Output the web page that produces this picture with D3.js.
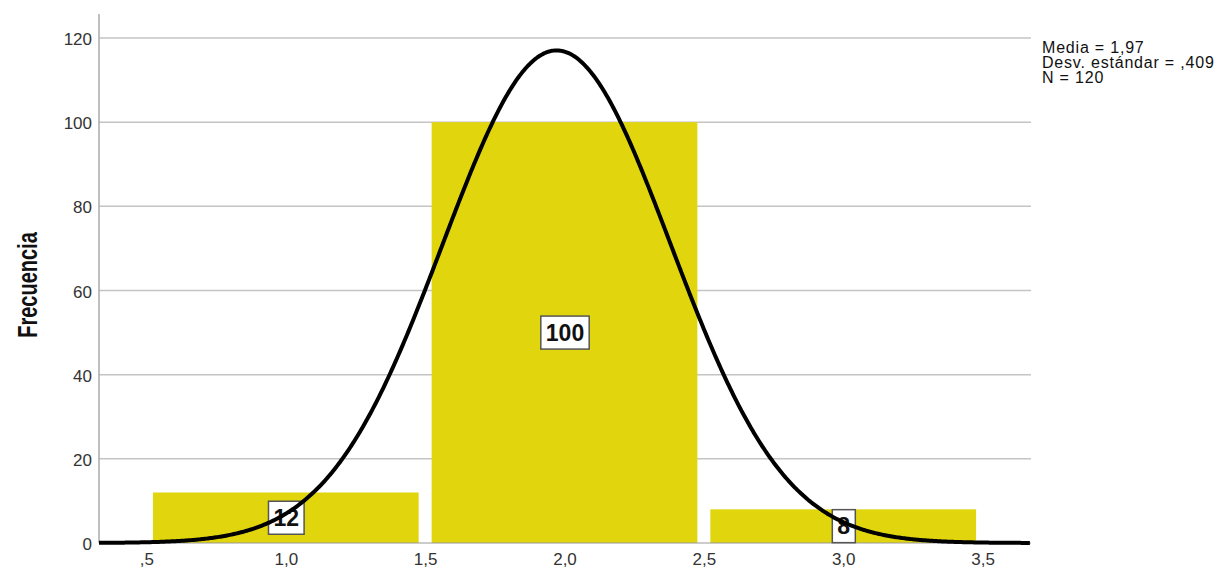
<!DOCTYPE html>
<html>
<head>
<meta charset="utf-8">
<script src="https://cdn.jsdelivr.net/npm/d3@7"></script>
<style>
  body { margin: 0; background: #fff; }
  svg text { font-family: "Liberation Sans", Arial, sans-serif; }
</style>
</head>
<body>
<svg id="chart" width="1221" height="568"></svg>
<script>
// histogram bins (centers) and counts
const binCenters = [1, 2, 3];
const counts = [12, 100, 8];
const binWidth = 1;
const yTicks = [0, 20, 40, 60, 80, 100, 120];
const xTicks = [0.5, 1.0, 1.5, 2.0, 2.5, 3.0, 3.5];
const stats = { mean: 1.97, sd: 0.409, n: 120 };
const legendLines = ['Media = 1,97', 'Desv. estándar = ,409', 'N = 120'];

const svg = d3.select('#chart');
const plotLeft = 99, plotRight = 1031, plotTop = 14, plotBottom = 543;

const x = d3.scaleLinear().domain([0.328, 3.672]).range([plotLeft, plotRight]);
const y = d3.scaleLinear().domain([0, 120]).range([plotBottom, 38]);

const fmt = v => {
  let s = d3.format('.1f')(v).replace('.', ',');
  return s.startsWith('0,') ? s.slice(1) : s;
};

// grid lines
svg.append('g')
  .selectAll('line')
  .data(yTicks.filter(d => d > 0))
  .join('line')
  .attr('x1', plotLeft).attr('x2', plotRight)
  .attr('y1', d => y(d)).attr('y2', d => y(d))
  .attr('stroke', '#c4c4c4')
  .attr('stroke-width', 1.5);

// bars
const bars = binCenters.map((c, i) => ({ c, v: counts[i] }));
svg.append('g')
  .selectAll('rect')
  .data(bars)
  .join('rect')
  .attr('x', d => x(d.c - binWidth / 2) + 6)
  .attr('width', d => x(d.c + binWidth / 2) - x(d.c - binWidth / 2) - 13)
  .attr('y', d => y(d.v))
  .attr('height', d => y(0) - y(d.v))
  .attr('fill', '#e1d60d');

// axes lines
svg.append('line')
  .attr('x1', plotLeft).attr('x2', plotLeft)
  .attr('y1', plotTop).attr('y2', plotBottom)
  .attr('stroke', '#aaa').attr('stroke-width', 1.5);
svg.append('line')
  .attr('x1', plotLeft).attr('x2', plotRight)
  .attr('y1', plotBottom).attr('y2', plotBottom)
  .attr('stroke', '#999').attr('stroke-width', 1);

// y tick labels
svg.append('g')
  .selectAll('text')
  .data(yTicks)
  .join('text')
  .attr('x', plotLeft - 7)
  .attr('y', d => y(d))
  .attr('dy', '0.42em')
  .attr('text-anchor', 'end')
  .attr('font-size', 17)
  .attr('fill', '#333')
  .text(d => d);

// x tick labels
svg.append('g')
  .selectAll('text')
  .data(xTicks)
  .join('text')
  .attr('x', d => x(d))
  .attr('y', 565)
  .attr('text-anchor', 'middle')
  .attr('font-size', 17)
  .attr('fill', '#333')
  .text(fmt);

// y title
svg.append('text')
  .attr('transform', 'translate(37,285) rotate(-90) scale(0.74,1)')
  .attr('text-anchor', 'middle')
  .attr('font-size', 27)
  .attr('font-weight', 'bold')
  .attr('fill', '#111')
  .text('Frecuencia');

// value labels
const lab = svg.append('g')
  .selectAll('g')
  .data(bars)
  .join('g')
  .attr('transform', d => `translate(${x(d.c)},${y(d.v / 2)})`);
lab.append('text')
  .attr('text-anchor', 'middle')
  .attr('dy', '0.36em')
  .attr('font-size', 23)
  .attr('font-weight', 'bold')
  .attr('fill', '#111')
  .text(d => d.v)
  .each(function () {
    const b = this.getBBox();
    d3.select(this.parentNode).insert('rect', 'text')
      .attr('x', b.x - 5).attr('y', -16.5)
      .attr('width', b.width + 10).attr('height', 33)
      .attr('fill', '#fff')
      .attr('stroke', '#555').attr('stroke-width', 1.5);
  });

// normal curve
const peak = stats.n * binWidth / (stats.sd * Math.sqrt(2 * Math.PI));
const pts = d3.range(0.328, 3.6721, 0.005).map(v => [v, peak * Math.exp(-0.5 * ((v - stats.mean) / stats.sd) ** 2)]);
svg.append('path')
  .datum(pts)
  .attr('d', d3.line().x(d => x(d[0])).y(d => y(d[1])))
  .attr('fill', 'none')
  .attr('stroke', '#000')
  .attr('stroke-width', 4);

// legend
svg.append('g')
  .selectAll('text')
  .data(legendLines)
  .join('text')
  .attr('x', 1042)
  .attr('y', (d, i) => 53 + i * 15)
  .attr('font-size', 16)
  .attr('letter-spacing', 0.8)
  .attr('fill', '#111')
  .text(d => d);
</script>
</body>
</html>
